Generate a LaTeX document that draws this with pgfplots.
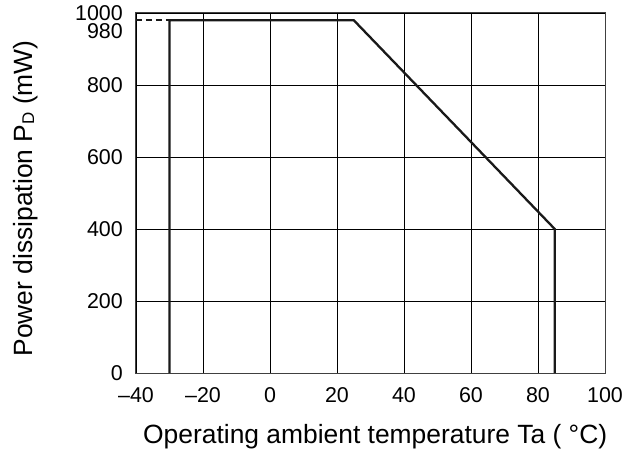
\documentclass[border=0pt]{standalone}
\usepackage{pgfplots}
\pgfplotsset{compat=1.18}
\usepackage{fontspec}
\setmainfont{Liberation Sans}
\begin{document}
\begin{tikzpicture}
\useasboundingbox (-136bp,-80bp) rectangle (498bp,373bp);
\begin{axis}[
    at={(0,0)},
    anchor=south west,
    scale only axis,
    width=469bp,
    height=360bp,
    xmin=-40, xmax=100,
    ymin=0, ymax=1000,
    xtick={-40,-20,0,20,40,60,80,100},
    xticklabels={–40,–20,0,20,40,60,80,100},
    ytick={0,200,400,600,800,1000},
    yticklabels={0,200,400,600,800,1000},
    extra y ticks={980},
    extra y tick labels={980},
    extra y tick style={grid=none, yticklabel style={yshift=-10.5bp}},
    grid=major,
    major grid style={line width=0.8bp, black},
    major tick length=0pt,
    axis line style={line width=1bp, black!75},
    tick label style={font=\fontsize{21.5}{25}\selectfont},
    xticklabel style={anchor=base, yshift=-29bp},
    yticklabel style={anchor=east, inner sep=0pt, xshift=-13bp, yshift=-0.5bp},
    label style={font=\fontsize{26.5}{31}\selectfont},
    xlabel={Operating ambient temperature Ta ( °C)},
    xlabel style={at={(axis description cs:0.51,-0.197)}, anchor=base},
    ylabel={Power dissipation P\raisebox{-0.15ex}{\fontsize{17}{19}\selectfont D} (mW)},
    ylabel style={at={(axis description cs:-0.2217,0.485)}, anchor=base, rotate=0},
]
\addplot[line width=2.3bp, black!90, line join=miter] coordinates {
    (-30,0) (-30,980) (25,980) (85,400) (85,0)
};
\addplot[line width=2.3bp, black!90, dash pattern=on 6bp off 4bp] coordinates {
    (-40,980) (-30,980)
};
\end{axis}
\end{tikzpicture}
\end{document}
